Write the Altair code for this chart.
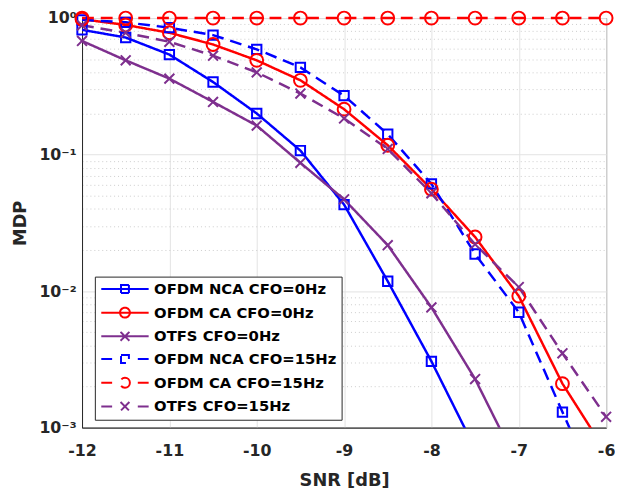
import altair as alt
import pandas as pd

# ---------------- data ----------------
snr = [-12, -11.5, -11, -10.5, -10, -9.5, -9, -8.5, -8, -7.5, -7, -6.5, -6]

ofdm_nca_0 = [0.82, 0.72, 0.54, 0.34, 0.20, 0.107, 0.043, 0.0118, 0.00306, 0.0007, None, None, None]
ofdm_ca_0 = [0.98, 0.89, 0.78, 0.64, 0.49, 0.35, 0.215, 0.117, 0.0558, 0.0249, 0.0092, 0.0021, 0.00066]
otfs_0 = [0.68, 0.49, 0.36, 0.243, 0.163, 0.087, 0.047, 0.0217, 0.0076, 0.00227, 0.00052, None, None]
ofdm_nca_15 = [0.97, 0.93, 0.85, 0.75, 0.59, 0.435, 0.27, 0.141, 0.061, 0.0187, 0.0070, 0.0013, 0.00025]
ofdm_ca_15 = [1.0, 1.0, 1.0, 1.0, 1.0, 1.0, 1.0, 1.0, 1.0, 1.0, 1.0, 1.0, 1.0]
otfs_15 = [0.885, 0.78, 0.67, 0.53, 0.40, 0.28, 0.184, 0.110, 0.052, 0.022, 0.0107, 0.0035, 0.0012]

series_names = [
    "OFDM NCA CFO=0Hz",
    "OFDM CA CFO=0Hz",
    "OTFS CFO=0Hz",
    "OFDM NCA CFO=15Hz",
    "OFDM CA CFO=15Hz",
    "OTFS CFO=15Hz",
]
series_values = [ofdm_nca_0, ofdm_ca_0, otfs_0, ofdm_nca_15, ofdm_ca_15, otfs_15]

x_ticks = [-12, -11, -10, -9, -8, -7, -6]
y_ticks = [0.001, 0.002, 0.003, 0.004, 0.005, 0.006, 0.007, 0.008, 0.009,
           0.01, 0.02, 0.03, 0.04, 0.05, 0.06, 0.07, 0.08, 0.09,
           0.1, 0.2, 0.3, 0.4, 0.5, 0.6, 0.7, 0.8, 0.9, 1]

# ---------------- styles ----------------
colors = ["#0000FF", "#FF0000", "#7E2F8E", "#0000FF", "#FF0000", "#7E2F8E"]
XPATH = "M-1,-1L1,1M1,-1L-1,1"
dashes = [[1, 0], [1, 0], [1, 0], [12, 7], [12, 7], [12, 7]]

SQ = "M-0.8,-0.8H0.8V0.8H-0.8Z"
CI = "M1,0A1,1 0 1,1 -1,0A1,1 0 1,1 1,0Z"
XX = "M-0.9,-0.9L0.9,0.9M0.9,-0.9L-0.9,0.9"
SOLID = "M-4.8,0H4.8"
DASHED = "M-4.8,0H-2.6M2.6,0H4.8"
legend_paths = [SOLID + SQ, SOLID + CI, SOLID + XX, DASHED + SQ, DASHED + CI, DASHED + XX]

rows = []
for name, vals in zip(series_names, series_values):
    for s, v in zip(snr, vals):
        if v is not None:
            rows.append({"series": name, "snr": s, "mdp": v})
df = pd.DataFrame(rows)

FONT = "DejaVu Sans"
DARK = "#262626"

decade_test = "datum.value == 1 || datum.value == 0.1 || datum.value == 0.01 || datum.value == 0.001"
label_expr = ("datum.value == 1 ? '10\u2070' : datum.value == 0.1 ? '10\u207b\u00b9' : "
              "datum.value == 0.01 ? '10\u207b\u00b2' : datum.value == 0.001 ? '10\u207b\u00b3' : ''")

x_enc = alt.X(
    "snr:Q",
    scale=alt.Scale(domain=[-12, -6], nice=False, zero=False),
    axis=alt.Axis(
        values=x_ticks, labelExpr="'' + datum.value", title="SNR [dB]", ticks=False,
        labelFlush=False, labelPadding=15, titlePadding=14,
        gridColor="#e3e3e3", gridWidth=1,
    ),
)
y_enc = alt.Y(
    "mdp:Q",
    scale=alt.Scale(type="log", domain=[0.001, 1], nice=False),
    axis=alt.Axis(
        values=y_ticks, labelExpr=label_expr, title="MDP", ticks=False,
        labelPadding=6, titlePadding=10, labelOverlap=False, labelFlush=False,
        gridDash={"condition": {"test": decade_test, "value": []}, "value": [1, 3]},
        gridColor={"condition": {"test": decade_test, "value": "#e3e3e3"}, "value": "#cccccc"},
    ),
)
legend_props = dict(
    title=None, orient="none", legendX=13, legendY=262,
    fillColor="white", strokeColor=DARK, padding=5,
    labelFont=FONT, labelFontSize=15, labelFontWeight="bold", labelColor="black",
    labelLimit=400,
    symbolSize=100, symbolStrokeWidth=2, symbolOffset=18, labelOffset=22,
    symbolFillColor="transparent",
    rowPadding=6, cornerRadius=0,
)
color_enc = alt.Color(
    "series:N",
    scale=alt.Scale(domain=series_names, range=colors),
    sort=series_names,
    legend=alt.Legend(**legend_props),
)
dash_enc = alt.StrokeDash("series:N", scale=alt.Scale(domain=series_names, range=dashes), legend=None)

base = alt.Chart(df)

lines_clipped = base.transform_filter(
    alt.datum.series != "OFDM CA CFO=15Hz"
).mark_line(strokeWidth=2.5, clip=True).encode(
    x=x_enc, y=y_enc, color=color_enc, strokeDash=dash_enc
)
lines_top = base.transform_filter(
    alt.datum.series == "OFDM CA CFO=15Hz"
).mark_line(strokeWidth=2.5).encode(
    x=x_enc, y=y_enc, color=color_enc, strokeDash=dash_enc
)


def marker_layer(names, shape, size):
    return base.transform_filter(
        alt.FieldOneOfPredicate(field="series", oneOf=names)
    ).transform_filter(alt.datum.mdp >= 0.001).mark_point(
        filled=False, strokeWidth=2, opacity=1, shape=shape, size=size
    ).encode(x=x_enc, y=y_enc, color=color_enc)


squares = marker_layer([series_names[0], series_names[3]], "square", 90)
circles = marker_layer([series_names[1], series_names[4]], "circle", 169)
crosses = marker_layer([series_names[2], series_names[5]], XPATH, 100)

# legend-only layer (no data rows drawn): carries the legend glyphs
legend_layer = base.transform_filter("false").mark_point(
    filled=False, strokeWidth=2, opacity=1
).encode(
    x=x_enc, y=y_enc, color=color_enc,
    shape=alt.Shape("series:N", scale=alt.Scale(domain=series_names, range=legend_paths),
                    legend=alt.Legend(**legend_props)),
)

chart = alt.layer(lines_clipped, lines_top, squares, circles, crosses, legend_layer).properties(
    width=531, height=415,
    autosize=alt.AutoSizeParams(type="none"),
    padding={"left": 75, "top": 7, "right": 9, "bottom": 59},
    background="white",
).configure_view(
    stroke=DARK, strokeWidth=1,
).configure_axis(
    labelFont=FONT, labelFontSize=16, labelFontWeight="bold", labelColor=DARK,
    titleFont=FONT, titleFontSize=18, titleFontWeight="bold", titleColor=DARK,
    domainColor=DARK, domainWidth=1,
)

chart.save("out.html", embed_options={"renderer": "svg", "actions": False})
